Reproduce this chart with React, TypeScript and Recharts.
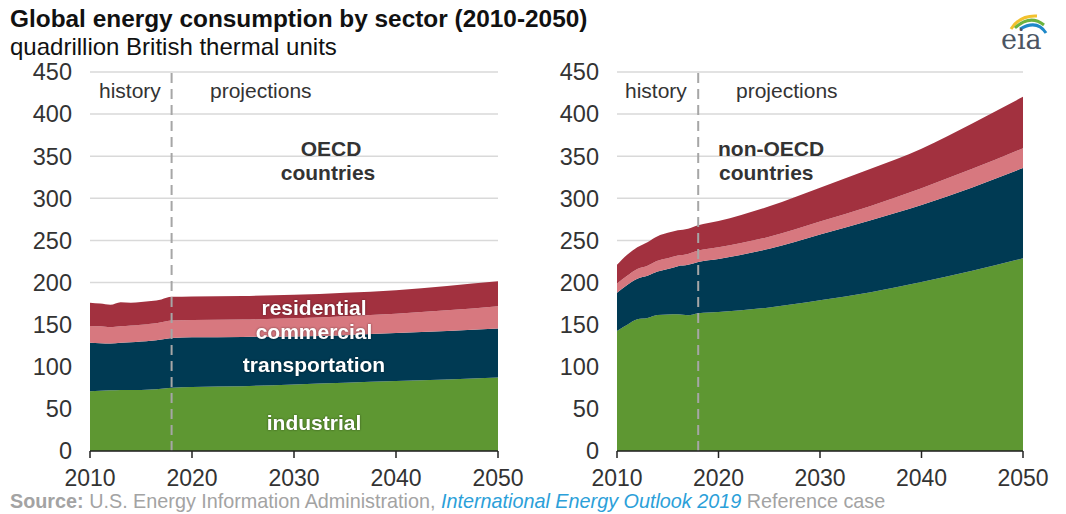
import React from 'react';
import { AreaChart, Area, XAxis, YAxis, CartesianGrid, ReferenceLine } from 'recharts';

const years = [2010, 2011, 2012, 2013, 2014, 2015, 2016, 2017, 2018, 2020, 2025, 2030, 2035, 2040, 2045, 2050];

const oecdIndustrial = [71, 71.5, 72, 72.5, 72.5, 72.5, 73, 74, 75, 76, 77, 79, 81, 83, 85, 87.3];
const oecdTransportation = [57.4, 56.5, 55.6, 56, 56.5, 57.5, 58, 58.5, 59.3, 59, 58.5, 57, 56.5, 57, 57.5, 58.1];
const oecdCommercial = [20.1, 20, 19.4, 19.5, 20, 20, 20, 20.5, 20.7, 20.5, 20.5, 21.5, 22.5, 23, 24.5, 26.6];
const oecdResidential = [27.5, 27, 26.5, 28.5, 27, 27, 27, 27, 28, 28, 28, 28, 28, 28, 29, 29.5];

const nonIndustrial = [142.6, 150, 156.5, 158, 161.5, 162, 162.4, 161.2, 163.6, 165, 170.5, 179, 188.5, 200.7, 214, 229];
const nonTransportation = [45.4, 47, 48, 50, 51.5, 54, 57.1, 59.8, 60.8, 63, 69.5, 78, 85.5, 91.3, 99, 107];
const nonCommercial = [11, 11, 11.5, 12, 13, 13, 12.5, 13, 13.6, 14, 14.5, 15.5, 17, 20, 22, 23.5];
const nonResidential = [22, 25, 26, 28, 29, 30, 30, 30, 30, 31, 36, 40, 44, 47, 54, 61];

const xTicks = [2010, 2020, 2030, 2040, 2050];
const yTicks = [0, 50, 100, 150, 200, 250, 300, 350, 400, 450];
const historyEnd = 2018;

const FONT = '"Liberation Sans", Arial, Helvetica, sans-serif';
const COLORS = {
  industrial: '#5e9732',
  transportation: '#003a53',
  commercial: '#d7787f',
  residential: '#a2313f',
};

function build(ind: number[], tr: number[], com: number[], res: number[]) {
  return years.map((y, i) => ({
    year: y,
    industrial: ind[i],
    transportation: tr[i],
    commercial: com[i],
    residential: res[i],
  }));
}

const oecdData = build(oecdIndustrial, oecdTransportation, oecdCommercial, oecdResidential);
const nonOecdData = build(nonIndustrial, nonTransportation, nonCommercial, nonResidential);

function Panel({ data, left, rightMargin }: { data: any[]; left: number; rightMargin: number }) {
  return (
    <div style={{ position: 'absolute', left, top: 0 }}>
      <AreaChart
        width={530}
        height={514}
        data={data}
        margin={{ top: 72, right: rightMargin, bottom: 23, left: 0 }}
      >
        <CartesianGrid vertical={false} stroke="#d9d9d9" strokeWidth={1.5} />
        <XAxis
          dataKey="year"
          type="number"
          domain={[2010, 2050]}
          ticks={xTicks}
          height={40}
          tickSize={7}
          tickMargin={12}
          tick={{ fill: '#333', fontSize: 23, fontFamily: FONT }}
          axisLine={{ stroke: '#222', strokeWidth: 1.5 }}
          tickLine={{ stroke: '#222', strokeWidth: 1.5 }}
        />
        <YAxis
          type="number"
          domain={[0, 450]}
          ticks={yTicks}
          width={90}
          axisLine={false}
          tickLine={false}
          tickSize={0}
          tickMargin={18}
          tick={{ fill: '#333', fontSize: 23.5, fontFamily: FONT }}
        />
        <Area type="monotone" dataKey="industrial" stackId="a" stroke="none" fill={COLORS.industrial} fillOpacity={1} isAnimationActive={false} />
        <Area type="monotone" dataKey="transportation" stackId="a" stroke="none" fill={COLORS.transportation} fillOpacity={1} isAnimationActive={false} />
        <Area type="monotone" dataKey="commercial" stackId="a" stroke="none" fill={COLORS.commercial} fillOpacity={1} isAnimationActive={false} />
        <Area type="monotone" dataKey="residential" stackId="a" stroke="none" fill={COLORS.residential} fillOpacity={1} isAnimationActive={false} />
        <ReferenceLine x={historyEnd} stroke="#a6a6a6" strokeWidth={2} strokeDasharray="10 6" />
      </AreaChart>
    </div>
  );
}

const whiteLabel = {
  fill: '#ffffff',
  fontSize: 21,
  fontWeight: 700,
  fontFamily: FONT,
  textAnchor: 'middle' as const,
  style: { filter: 'drop-shadow(0 0 1px rgba(0,0,0,0.45))' },
};

export default function App() {
  return (
    <div style={{ position: 'absolute', left: 0, top: 0, width: 1066, height: 514, background: '#fff', overflow: 'hidden' }}>
      <Panel data={oecdData} left={0} rightMargin={32} />
      <Panel data={nonOecdData} left={527} rightMargin={34} />
      <svg width={1066} height={514} style={{ position: 'absolute', left: 0, top: 0, pointerEvents: 'none' }}>
        <text x={10} y={27} fontFamily={FONT} fontSize={24.4} fontWeight={700} fill="#111">
          Global energy consumption by sector (2010-2050)
        </text>
        <text x={10} y={55} fontFamily={FONT} fontSize={24} fill="#111">
          quadrillion British thermal units
        </text>

        <text x={99} y={98} fontFamily={FONT} fontSize={21} fill="#333">history</text>
        <text x={210} y={98} fontFamily={FONT} fontSize={21} fill="#333">projections</text>
        <text x={331} y={156} fontFamily={FONT} fontSize={21} fontWeight={700} fill="#333" textAnchor="middle">OECD</text>
        <text x={328} y={180} fontFamily={FONT} fontSize={21} fontWeight={700} fill="#333" textAnchor="middle">countries</text>

        <text x={625} y={98} fontFamily={FONT} fontSize={21} fill="#333">history</text>
        <text x={736} y={98} fontFamily={FONT} fontSize={21} fill="#333">projections</text>
        <text x={718} y={156} fontFamily={FONT} fontSize={21} fontWeight={700} fill="#333">non-OECD</text>
        <text x={719} y={180} fontFamily={FONT} fontSize={21} fontWeight={700} fill="#333">countries</text>

        <text x={314} y={315} {...whiteLabel}>residential</text>
        <text x={314} y={339} {...whiteLabel}>commercial</text>
        <text x={314} y={372} {...whiteLabel}>transportation</text>
        <text x={314} y={430} {...whiteLabel}>industrial</text>

        <text x={10} y={508} fontFamily={FONT} fontSize={19.8} fill="#a3a3a3">
          <tspan fontWeight={700}>Source:</tspan>
          <tspan> U.S. Energy Information Administration, </tspan>
          <tspan fontStyle="italic" fill="#2ba0d9">International Energy Outlook 2019</tspan>
          <tspan> Reference case</tspan>
        </text>

        <path d="M1011 29 Q1020 15 1037 16" stroke="#f2c12e" strokeWidth={3} fill="none" />
        <path d="M1015 28 Q1030 14 1044 25" stroke="#6db33f" strokeWidth={3} fill="none" />
        <path d="M1020 29 Q1037 19 1046 33" stroke="#1e88c8" strokeWidth={3} fill="none" />
        <text x={1001} y={49} fontFamily='"DejaVu Serif", "Liberation Serif", serif' fontSize={27} fill="#4b5563">eia</text>
      </svg>
    </div>
  );
}
